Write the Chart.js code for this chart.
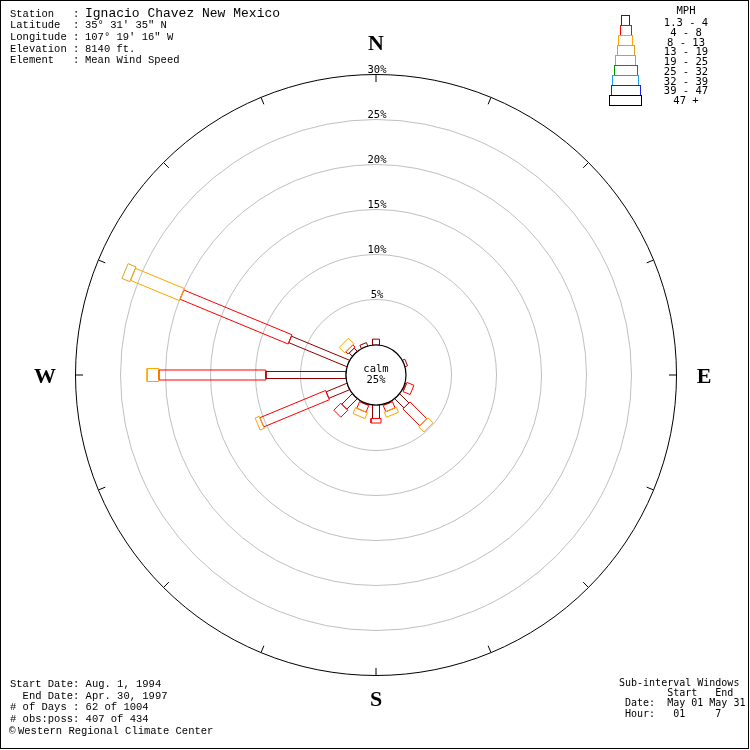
<!DOCTYPE html>
<html>
<head>
<meta charset="utf-8">
<script src="https://cdn.jsdelivr.net/npm/chart.js@4.4.1/dist/chart.umd.min.js"></script>
<style>
  html, body { margin: 0; padding: 0; background: #fff; }
  canvas { display: block; }
</style>
</head>
<body>
<canvas id="rose" width="750" height="750"></canvas>
<script>
// ---- wind rose data: percent of observations by direction and speed class ----
const directions = ['N','NNE','NE','ENE','E','ESE','SE','SSE','S','SSW','SW','WSW','W','WNW','NW','NNW'];
const speedClasses = ['1.3 - 4','4 - 8','8 - 13','13 - 19','19 - 25','25 - 32','32 - 39','39 - 47','47 +'];

//                 N    NNE NE  ENE  E   ESE   SE    SSE  S    SSW  SW    WSW  W     WNW   NW    NNW
const mph1to4   = [0.65, 0,  0,  0.3, 0,  0.15, 1.45, 0.1, 1.5, 0.1, 1.65, 2.5, 8.9,  7.0,  0.5,  0.4];
const mph4to8   = [0,    0,  0,  0,   0,  0.85, 2.65, 0.75,0.5, 0.8, 1.1,  7.9, 11.9, 13.0, 0.35, 0];
const mph8to13  = [0,    0,  0,  0,   0,  0,    0.8,  0.6, 0,   0.7, 0,    0.5, 1.3,  5.9,  0.87, 0];
const mph13to19 = [0,    0,  0,  0,   0,  0,    0,    0,   0,   0,   0,    0,   0,    0.95, 0,    0];
const mph19to25 = [0,0,0,0,0,0,0,0,0,0,0,0,0,0,0,0];
const mph25to32 = [0,0,0,0,0,0,0,0,0,0,0,0,0,0,0,0];
const mph32to39 = [0,0,0,0,0,0,0,0,0,0,0,0,0,0,0,0];
const mph39to47 = [0,0,0,0,0,0,0,0,0,0,0,0,0,0,0,0];
const mph47up   = [0,0,0,0,0,0,0,0,0,0,0,0,0,0,0,0];

const calmPercent = 25;
const ringTicks = [5, 10, 15, 20, 25, 30];

const stationInfo = [
  ['Station   : ', 'Ignacio Chavez New Mexico'],
  ['Latitude  : ', '35\u00b0 31\' 35" N'],
  ['Longitude : ', '107\u00b0 19\' 16" W'],
  ['Elevation : ', '8140 ft.'],
  ['Element   : ', 'Mean Wind Speed']
];
const periodInfo = [
  'Start Date: Aug. 1, 1994',
  '  End Date: Apr. 30, 1997',
  '# of Days : 62 of 1004',
  '# obs:poss: 407 of 434'
];
const creditText = 'Western Regional Climate Center';
const windowInfo = [
  'Sub-interval Windows',
  '        Start   End',
  ' Date:  May 01 May 31',
  ' Hour:   01     7'
];

// ---- styling ----
const classSeries = [mph1to4, mph4to8, mph8to13, mph13to19, mph19to25, mph25to32, mph32to39, mph39to47, mph47up];
const classColors = ['#8b0000', '#ff0000', '#ffa500', '#daa520', '#33ee33', '#009900', '#1ea0f0', '#2020e0', '#000000'];
const classWidthPx = [7, 10, 13, 16, 19, 22, 25, 28, 31];

const calmRadius = 10 / 3;                 // calm circle radius, in percent units
const ringMax = ringTicks[ringTicks.length - 1];
const axisLimit = calmRadius + ringMax;
const plotSize = 600;                      // square plot area, px
const pxPerUnit = plotSize / (2 * axisLimit);

function segmentOutline(angleDeg, r0, r1, halfW) {
  const a = angleDeg * Math.PI / 180;
  const ux = Math.sin(a), uy = Math.cos(a);
  const px = Math.cos(a), py = -Math.sin(a);
  return [[r0, halfW], [r1, halfW], [r1, -halfW], [r0, -halfW], [r0, halfW]]
    .map(([r, h]) => ({ x: r * ux + h * px, y: r * uy + h * py }));
}

const segmentSets = [];
directions.forEach((dir, d) => {
  const angle = d * 360 / directions.length;
  let r = calmRadius;
  classSeries.forEach((series, k) => {
    const v = series[d];
    if (v > 0) {
      segmentSets.push({
        label: dir + ' ' + speedClasses[k],
        data: segmentOutline(angle, r, r + v, classWidthPx[k] / 2 / pxPerUnit),
        showLine: true,
        borderColor: classColors[k],
        borderWidth: 1,
        borderJoinStyle: 'miter',
        pointRadius: 0,
        pointHoverRadius: 0,
        fill: false,
        tension: 0
      });
      r += v;
    }
  });
});
// outer segments are drawn last so their edges sit on top
segmentSets.reverse();

const monoFont = '"DejaVu Sans Mono", monospace';
const textFont = '"Liberation Mono", monospace';

const roseDecor = {
  id: 'roseDecor',
  beforeDatasetsDraw(chart) {
    const { ctx, scales: { x, y } } = chart;
    const cx = x.getPixelForValue(0), cy = y.getPixelForValue(0);
    const rad = v => x.getPixelForValue(v) - cx;
    ctx.save();
    ctx.fillStyle = '#fff';
    ctx.fillRect(0, 0, chart.width, chart.height);
    ctx.strokeStyle = '#000';
    ctx.lineWidth = 1;
    ctx.strokeRect(0.5, 0.5, 748, 748);

    ringTicks.forEach(t => {
      ctx.beginPath();
      ctx.arc(cx, cy, rad(calmRadius + t) + 0.5, 0, 2 * Math.PI);
      ctx.strokeStyle = t === ringMax ? '#000' : '#c0c0c0';
      ctx.stroke();
    });

    const rOut = rad(axisLimit);
    ctx.strokeStyle = '#000';
    directions.forEach((dir, i) => {
      const a = i * 2 * Math.PI / directions.length;
      ctx.beginPath();
      ctx.moveTo(cx + Math.sin(a) * rOut, cy - Math.cos(a) * rOut);
      ctx.lineTo(cx + Math.sin(a) * (rOut - 7), cy - Math.cos(a) * (rOut - 7));
      ctx.stroke();
    });

    ctx.fillStyle = '#000';
    ctx.font = '10.5px ' + monoFont;
    ctx.textAlign = 'center';
    ctx.textBaseline = 'alphabetic';
    ringTicks.forEach(t => ctx.fillText(t + '%', cx + 1, cy - rad(calmRadius + t) - 2));
    ctx.restore();
  },
  afterDatasetsDraw(chart) {
    const { ctx, scales: { x, y } } = chart;
    const cx = x.getPixelForValue(0), cy = y.getPixelForValue(0);
    const rCalm = x.getPixelForValue(calmRadius) - cx;
    ctx.save();

    // calm circle
    ctx.beginPath();
    ctx.arc(cx, cy, rCalm, 0, 2 * Math.PI);
    ctx.fillStyle = '#fff';
    ctx.fill();
    ctx.strokeStyle = '#000';
    ctx.lineWidth = 1.2;
    ctx.stroke();
    ctx.fillStyle = '#000';
    ctx.font = '10.5px ' + monoFont;
    ctx.textAlign = 'center';
    ctx.fillText('calm', cx, cy - 3.5);
    ctx.fillText(calmPercent + '%', cx, cy + 8);

    // compass points
    ctx.font = 'bold 22px "Liberation Serif", serif';
    ctx.fillText('N', cx, 50);
    ctx.fillText('S', cx, 706);
    ctx.fillText('W', 45, cy + 8);
    ctx.fillText('E', 704, cy + 8);

    // speed legend
    const lx = 625;
    ctx.lineWidth = 1;
    speedClasses.forEach((label, i) => {
      const w = classWidthPx[i] + 1;
      ctx.strokeStyle = classColors[i];
      ctx.strokeRect(Math.round(lx - w / 2) + 0.5, 15.5 + i * 10, w, 10);
    });
    ctx.font = '10.5px ' + monoFont;
    ctx.textAlign = 'center';
    ctx.fillText('MPH', 686, 14);
    speedClasses.forEach((label, i) => ctx.fillText(label, 686, 26 + i * 9.75));

    // station header
    ctx.textAlign = 'left';
    stationInfo.forEach(([key, val], i) => {
      const by = 16.5 + i * 11.7;
      ctx.font = '10.5px ' + textFont;
      ctx.fillText(key, 10, by);
      ctx.font = (i === 0 ? '13px ' : '10.5px ') + textFont;
      ctx.fillText(val, 85, by);
    });

    // period of record
    ctx.font = '10.5px ' + textFont;
    periodInfo.forEach((line, i) => ctx.fillText(line, 10, 686.7 + i * 11.8));
    ctx.font = '11px ' + textFont;
    ctx.fillText('\u00a9', 9, 734);
    ctx.font = '10.5px ' + textFont;
    ctx.fillText(creditText, 18, 734);

    // sub-interval windows
    ctx.font = '10px ' + monoFont;
    windowInfo.forEach((line, i) => ctx.fillText(line, 619, 686 + i * 10.2));

    ctx.restore();
  }
};

new Chart(document.getElementById('rose'), {
  type: 'scatter',
  data: { datasets: segmentSets },
  options: {
    responsive: false,
    animation: false,
    devicePixelRatio: 1,
    layout: { padding: { left: 76, right: 74, top: 75, bottom: 75 } },
    scales: {
      x: { type: 'linear', min: -axisLimit, max: axisLimit, display: false },
      y: { type: 'linear', min: -axisLimit, max: axisLimit, display: false }
    },
    plugins: { legend: { display: false }, tooltip: { enabled: false } },
    events: []
  },
  plugins: [roseDecor]
});
</script>
</body>
</html>
